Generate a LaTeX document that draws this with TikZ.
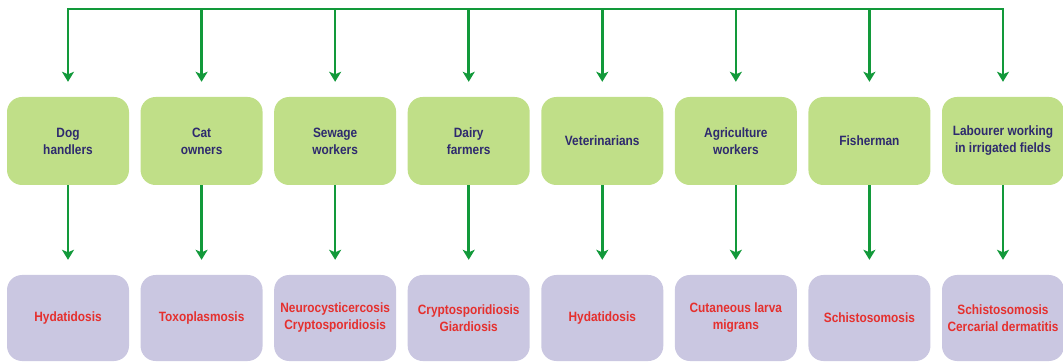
\documentclass[tikz,border=0pt]{standalone}
\usepackage{fontspec}
\setmainfont{Liberation Sans}[FakeStretch=0.88]
\usetikzlibrary{arrows.meta}
\definecolor{boxgreen}{HTML}{C0DF88}
\definecolor{navytext}{HTML}{2E2A6E}
\definecolor{lav}{HTML}{CAC7E1}
\definecolor{redtext}{HTML}{E5302E}
\definecolor{arrgreen}{HTML}{12993A}
\tikzset{
  occ/.style={draw=none, fill=boxgreen, rounded corners=15pt, minimum width=122pt, minimum height=88pt,
    align=center, text=navytext, font=\fontsize{13.5}{17}\selectfont\bfseries, inner sep=0pt},
  dis/.style={draw=none, fill=lav, rounded corners=15pt, minimum width=122pt, minimum height=86pt,
    align=center, text=redtext, font=\fontsize{13.5}{17}\selectfont\bfseries, inner sep=0pt},
  conn/.style={draw=arrgreen, line width=2.6pt},
  arr/.style={conn, -{Stealth[length=10pt,width=12pt,inset=2.5pt]}, shorten >=15pt}
}
\begin{document}
\begin{tikzpicture}[x=1pt,y=-1pt]
\useasboundingbox (0,0) rectangle (1063,363);
\foreach \i/\t/\d in {
  1/{Dog\\handlers}/{Hydatidosis},
  2/{Cat\\owners}/{Toxoplasmosis},
  3/{Sewage\\workers}/{Neurocysticercosis\\Cryptosporidiosis},
  4/{Dairy\\farmers}/{Cryptosporidiosis\\Giardiosis},
  5/{Veterinarians}/{Hydatidosis},
  6/{Agriculture\\workers}/{Cutaneous larva\\migrans},
  7/{Fisherman}/{Schistosomosis},
  8/{Labourer working\\in irrigated fields}/{Schistosomosis\\Cercarial dermatitis}}{
  \pgfmathsetmacro{\cx}{68+133.57*(\i-1)}
  \coordinate (c\i) at (\cx,9);
  \node[occ] (o\i) at (\cx,141) {\t};
  \node[dis] (d\i) at (\cx,318) {\d};
}
\draw[conn, line cap=rect] (c1) -- (c8);
\foreach \i in {1,...,8}{
  \draw[arr] (c\i) -- (o\i.north);
  \draw[arr] (o\i.south) -- (d\i.north);
}
\end{tikzpicture}
\end{document}
